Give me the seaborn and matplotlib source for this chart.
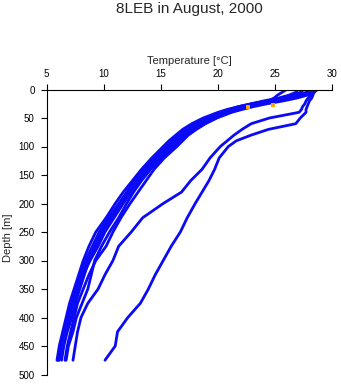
import matplotlib
matplotlib.use("Agg")
import matplotlib.pyplot as plt
import seaborn as sns
import pandas as pd

# ---- data ----
depth = [0, 5, 10, 15, 20, 25, 30, 35, 40, 50, 60, 70, 80, 90, 100, 120, 140, 160,
         180, 200, 225, 250, 275, 300, 325, 350, 375, 400, 425, 450, 475]

p1 = [26.0, 25.6, 25.2, 24.9, 24.4, 23.0, 21.8, 20.8, 20.0, 18.7, 17.7, 16.9, 16.3, 15.7, 15.2,
      14.2, 13.3, 12.5, 11.7, 11.0, 10.2, 9.3, 8.7, 8.2, 7.8, 7.4, 7.0, 6.7, 6.4, 6.1, 5.9]
p2 = [27.5, 27.2, 26.5, 25.5, 24.3, 23.0, 22.0, 21.1, 20.3, 19.0, 18.0, 17.2, 16.6, 16.0, 15.5,
      14.4, 13.5, 12.7, 12.0, 11.3, 10.4, 9.6, 9.0, 8.4, 7.9, 7.5, 7.1, 6.8, 6.5, 6.2, 6.0]
p3 = [28.5, 28.2, 27.4, 26.3, 25.1, 23.8, 22.7, 21.7, 20.9, 19.6, 18.6, 17.8, 17.1, 16.5, 16.0,
      14.9, 13.9, 13.1, 12.4, 11.7, 10.9, 10.1, 9.5, 8.8, 8.2, 7.8, 7.3, 7.0, 6.6, 6.3, 6.1]
p4 = [28.2, 27.9, 27.1, 26.0, 24.8, 23.5, 22.4, 21.4, 20.6, 19.4, 18.4, 17.6, 16.9, 16.3, 15.8,
      14.6, 13.7, 13.0, 12.2, 11.5, 10.7, 9.9, 9.3, 8.6, 8.1, 7.6, 7.2, 6.9, 6.5, 6.2, 6.0]
p5 = [27.0, 26.8, 26.2, 25.3, 24.0, 22.9, 21.8, 21.0, 20.3, 19.2, 18.3, 17.5, 16.8, 16.2, 15.7,
      14.5, 13.6, 12.8, 12.1, 11.4, 10.6, 9.8, 9.2, 8.7, 8.3, 7.9, 7.5, 7.2, 6.8, 6.5, 6.3]
p6 = [28.7, 28.4, 27.8, 26.9, 25.7, 24.3, 23.1, 22.1, 21.2, 19.9, 18.9, 18.1, 17.4, 16.9, 16.4,
      15.3, 14.4, 13.7, 13.0, 12.3, 11.5, 10.8, 10.2, 9.3, 8.7, 8.2, 7.7, 7.4, 7.1, 6.8, 6.6]
p7 = [28.0, 27.7, 27.0, 26.1, 25.0, 23.9, 22.8, 21.9, 21.0, 19.8, 18.8, 18.0, 17.3, 16.7, 16.2,
      15.1, 14.1, 13.3, 12.6, 12.0, 11.3, 10.5, 9.8, 9.2, 8.9, 8.6, 8.1, 7.6, 7.3, 6.9, 6.7]
p8 = [28.4, 28.3, 28.1, 27.9, 27.7, 27.6, 27.4, 27.3, 27.1, 24.5, 22.9, 22.1, 21.4, 20.8, 20.2,
      19.3, 18.6, 17.6, 16.8, 15.2, 13.4, 12.4, 11.3, 10.8, 10.1, 9.5, 8.6, 8.0, 7.7, 7.5, 7.3]
p9 = [28.6, 28.4, 28.3, 28.2, 28.0, 27.9, 27.8, 27.7, 27.7, 27.2, 26.8, 24.4, 22.9, 21.6, 20.9,
      20.1, 19.7, 19.2, 18.6, 18.0, 17.3, 16.7, 15.9, 15.2, 14.5, 13.9, 13.2, 12.1, 11.2, 11.0, 10.1]
profiles = [p1, p2, p3, p4, p5, p6, p7, p8, p9]

flag_temp = [22.6, 24.8]
flag_depth = [31, 28]

xticks = [5, 10, 15, 20, 25, 30]
yticks = [0, 50, 100, 150, 200, 250, 300, 350, 400, 450, 500]

rows = []
for i, prof in enumerate(profiles):
    for d, t in zip(depth, prof):
        rows.append({"profile": i, "depth": d, "temp": t})
df = pd.DataFrame(rows)
flags = pd.DataFrame({"temp": flag_temp, "depth": flag_depth})

# ---- figure ----
sns.set_style("white")
plt.rcParams["font.family"] = ["Liberation Sans", "DejaVu Sans"]

fig = plt.figure(figsize=(3.41, 3.84), dpi=100)
ax = fig.add_axes([46.7 / 341, 1 - 374.5 / 384, (332.3 - 46.7) / 341, (374.5 - 89.5) / 384])

sns.lineplot(data=df, x="temp", y="depth", units="profile", estimator=None, sort=False,
             color="#0a0af5", lw=2.0, ax=ax, legend=False)
sns.scatterplot(data=flags, x="temp", y="depth", color="#ffa500", marker="s", s=5,
                linewidth=0, ax=ax, legend=False, zorder=5)

ax.set_xlim(5, 30)
ax.set_ylim(500, 0)
ax.set_xticks(xticks)
ax.set_yticks(yticks)

ax.xaxis.tick_top()
ax.xaxis.set_label_position("top")
ax.set_xlabel("Temperature [°C]", fontsize=8)
ax.set_ylabel("Depth [m]", fontsize=8)
ax.xaxis.set_label_coords(0.5, 1.10)
ax.xaxis.label.set_va("center")
ax.yaxis.set_label_coords(-0.136, 0.48)
ax.yaxis.label.set_va("center")

ax.tick_params(axis="x", direction="out", length=4.3, width=0.8, pad=3.0,
               labelsize=7, colors="black", top=True, bottom=False)
ax.tick_params(axis="y", direction="out", length=4.3, width=0.8, pad=4.3,
               labelsize=7, colors="black", left=True)

for s in ["right", "bottom"]:
    ax.spines[s].set_visible(False)
for s in ["top", "left"]:
    ax.spines[s].set_color("black")
    ax.spines[s].set_linewidth(0.8)

fig.text(189.5 / 341, 1 - 9 / 384, "8LEB in August, 2000", ha="center", va="center",
         fontsize=11)

fig.savefig("out.png", dpi=100)
